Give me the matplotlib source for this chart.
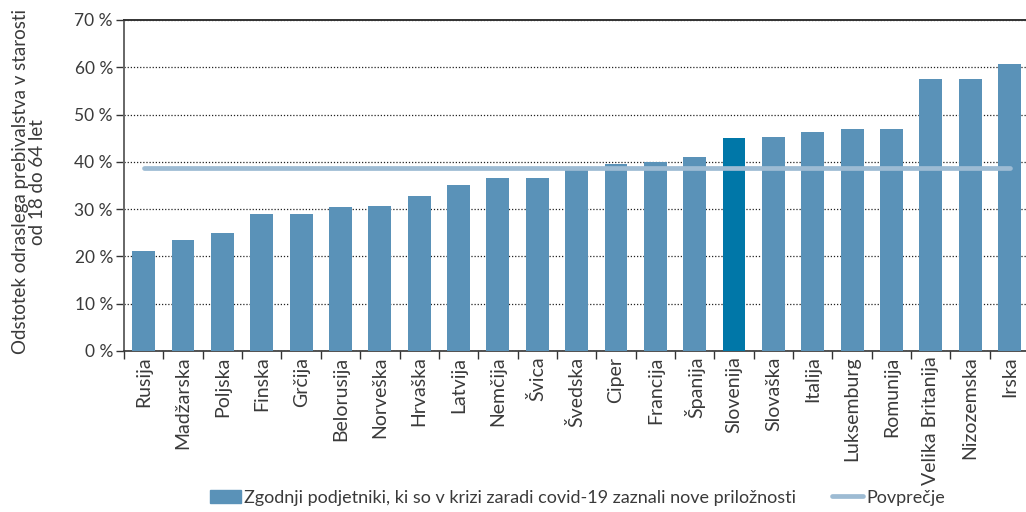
import matplotlib.pyplot as plt
import numpy as np
from matplotlib.lines import Line2D
from matplotlib.patches import Patch

plt.rcParams['font.family'] = ['Lato', 'DejaVu Sans']

# podatki
drzave = ['Rusija', 'Madžarska', 'Poljska', 'Finska', 'Grčija', 'Belorusija',
          'Norveška', 'Hrvaška', 'Latvija', 'Nemčija', 'Švica', 'Švedska',
          'Ciper', 'Francija', 'Španija', 'Slovenija', 'Slovaška', 'Italija',
          'Luksemburg', 'Romunija', 'Velika Britanija', 'Nizozemska', 'Irska']
vrednosti = [21.1, 23.5, 25.0, 29.0, 29.0, 30.4, 30.7, 32.8, 35.1, 36.6, 36.6,
             38.9, 39.5, 40.0, 41.0, 45.0, 45.2, 46.3, 46.9, 46.9, 57.5, 57.5, 60.7]
povprecje = 38.6

text_col = '#3a3a3a'
bar_col = '#5a92b8'
slo_col = '#0077a8'
avg_col = '#9dbbd3'

fig = plt.figure(figsize=(10.26, 5.12), dpi=100)
# desni rob osi sega malo cez sliko
ax = fig.add_axes([0.1209, 0.3145, 0.8822, 0.6465])

x = np.arange(len(drzave))
barve = [slo_col if d == 'Slovenija' else bar_col for d in drzave]
ax.bar(x, vrednosti, width=0.58, color=barve, zorder=3)
ax.plot([0, len(drzave) - 1], [povprecje, povprecje], color=avg_col, lw=3.4,
        solid_capstyle='round', zorder=4)

ax.set_xlim(-0.5, len(drzave) - 0.5)
ax.set_ylim(0, 70)
ax.set_yticks(range(0, 71, 10))
ax.set_yticklabels([f'{v} %' for v in range(0, 71, 10)])
ax.yaxis.grid(True, linestyle=(0, (1, 1.5)), color='#222222', lw=0.9, zorder=1)

ax.set_xticks(x)
ax.set_xticklabels(drzave, rotation=90, fontsize=14)
ax.set_xticks(np.arange(-0.5, len(drzave), 1), minor=True)
ax.tick_params(axis='x', which='major', length=0, pad=4)
ax.tick_params(axis='x', which='minor', length=6, width=1, color='#333333', direction='out')
ax.tick_params(axis='y', length=6, width=1, color='#333333', direction='out', pad=2,
               labelsize=12.5)
ax.tick_params(labelcolor=text_col)

ax.spines['right'].set_visible(False)
ax.spines['top'].set_color('#333333')
ax.spines['top'].set_linewidth(1.4)
ax.spines['left'].set_color('#666666')
ax.spines['left'].set_linewidth(1.4)
ax.spines['bottom'].set_color('#333333')
ax.spines['bottom'].set_linewidth(1.2)

fig.text(0.028, 0.645, 'Odstotek odraslega prebivalstva v starosti\nod 18 do 64 let',
         rotation=90, ha='center', va='center', fontsize=13.5, color=text_col,
         linespacing=1.0, multialignment='center')

handles = [Patch(color=bar_col, label='Zgodnji podjetniki, ki so v krizi zaradi covid-19 zaznali nove priložnosti'),
           Line2D([0], [0], color=avg_col, lw=3.4, solid_capstyle='round', label='Povprečje')]
fig.legend(handles=handles, loc='center', bbox_to_anchor=(0.563, 0.028), ncol=2,
           frameon=False, fontsize=13, labelcolor=text_col, handlelength=1.7,
           handletextpad=0.2, columnspacing=2.0)

fig.savefig('out.png', dpi=100)
